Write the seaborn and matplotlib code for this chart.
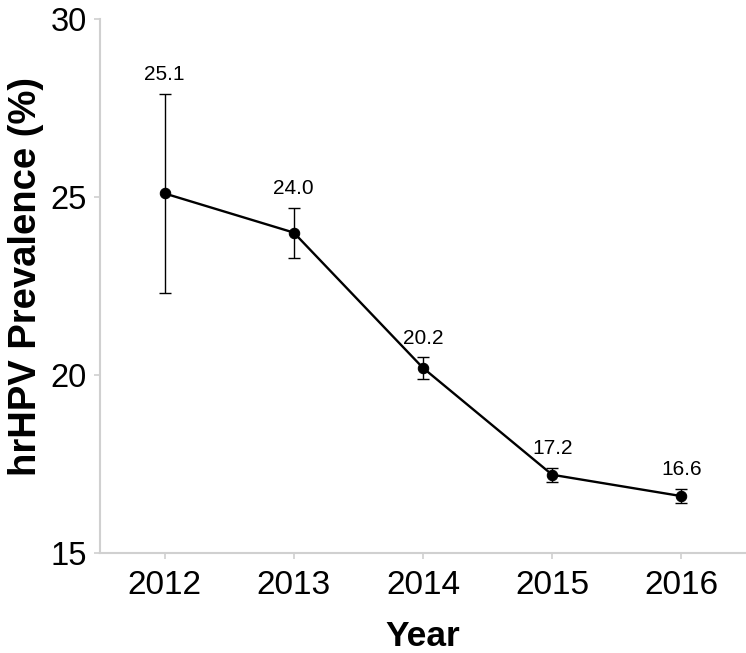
import matplotlib
matplotlib.use('Agg')
import matplotlib.pyplot as plt
import seaborn as sns
import pandas as pd

years = [2012, 2013, 2014, 2015, 2016]
prevalence = [25.1, 24.0, 20.2, 17.2, 16.6]
ci_low = [22.3, 23.3, 19.9, 17.0, 16.4]
ci_high = [27.9, 24.7, 20.5, 17.4, 16.8]

df = pd.DataFrame({'Year': years, 'Prevalence': prevalence,
                   'low': ci_low, 'high': ci_high})

sns.set_style('white')
plt.rcParams['font.family'] = ['Liberation Sans', 'DejaVu Sans']

fig = plt.figure(figsize=(7.46, 6.53), dpi=100)
ax = fig.add_axes([0.134, 0.153, 0.866, 0.818])

sns.lineplot(data=df, x='Year', y='Prevalence', color='black', linewidth=1.7,
             marker='o', markersize=7.5, markeredgecolor='black', ax=ax, zorder=3)
ax.errorbar(df['Year'], df['Prevalence'],
            yerr=[df['Prevalence'] - df['low'], df['high'] - df['Prevalence']],
            fmt='none', ecolor='black', elinewidth=1, capsize=4, capthick=1, zorder=2)

for x, y, top in zip(years, prevalence, ci_high):
    ax.annotate(f'{y:.1f}', (x, top), xytext=(0, 7), textcoords='offset points',
                ha='center', va='bottom', fontsize=15, color='black')

ax.set_xlim(2011.5, 2016.5)
ax.set_ylim(15, 30)
ax.set_xticks(years)
ax.set_yticks([15, 20, 25, 30])
ax.set_xlabel('Year', fontsize=25.5, fontweight='bold', color='black')
ax.set_ylabel('hrHPV Prevalence (%)', fontsize=27.5, fontweight='bold', color='black')
ax.xaxis.set_label_coords(0.5, -0.125)
ax.yaxis.set_label_coords(-0.086, 0.517)
ax.tick_params(axis='both', length=4.5, width=1.2, color='#d0d0d0',
               labelcolor='black', direction='out', left=True, bottom=True, pad=5)
ax.tick_params(axis='x', labelsize=24, pad=8)
ax.tick_params(axis='y', labelsize=23.5)

for side in ['top', 'right']:
    ax.spines[side].set_visible(False)
for side in ['left', 'bottom']:
    ax.spines[side].set_color('#d0d0d0')
    ax.spines[side].set_linewidth(1.5)

fig.savefig('out.png', dpi=100)
